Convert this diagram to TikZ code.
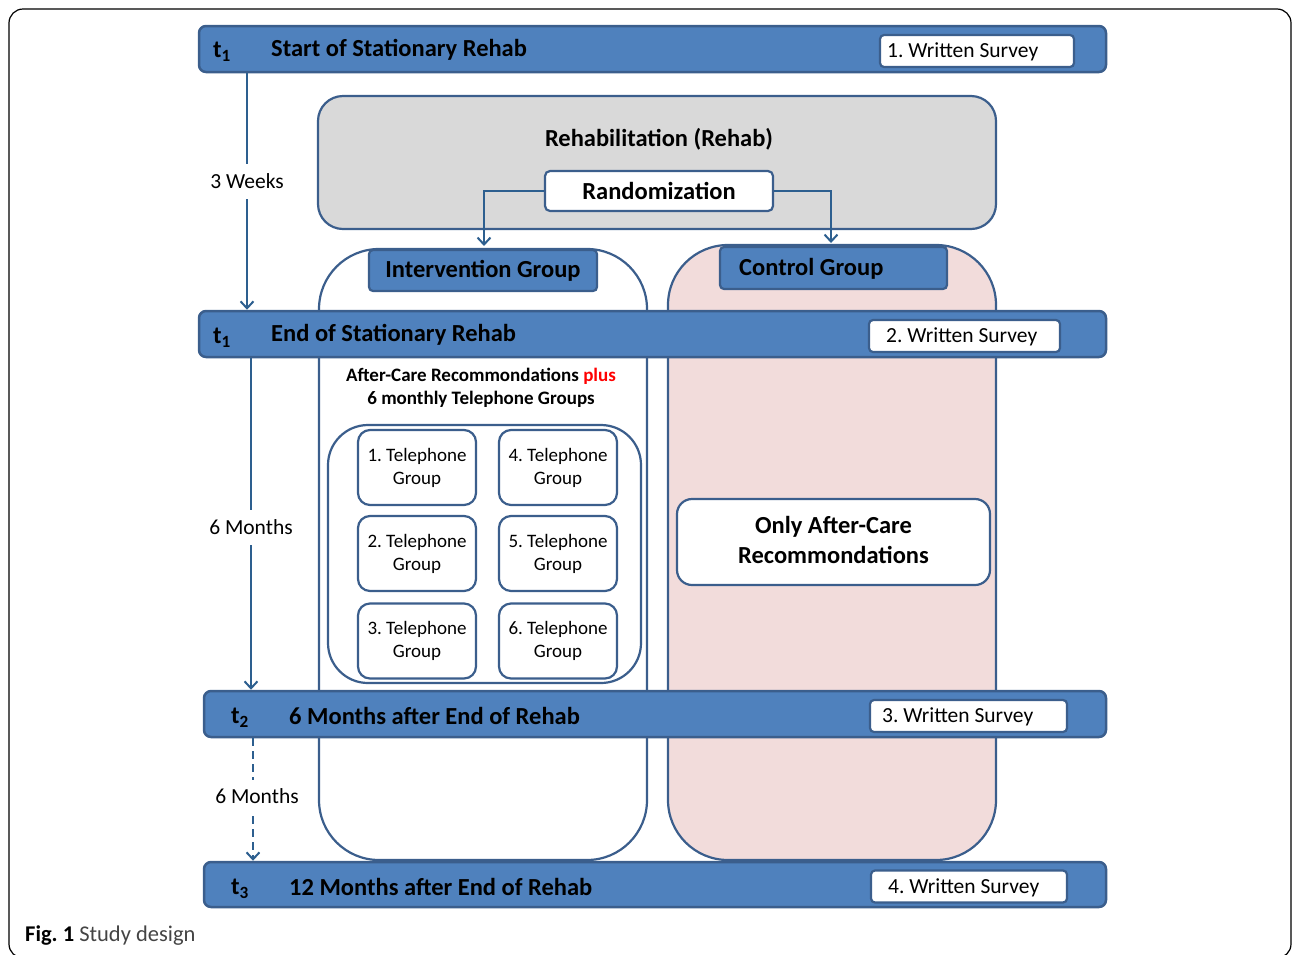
\documentclass[tikz,border=0pt]{standalone}
\usepackage{fontspec}
\setmainfont{Carlito}
\usetikzlibrary{arrows.meta}
\definecolor{barfill}{HTML}{4F81BD}
\definecolor{barline}{HTML}{3B5E8C}
\definecolor{arrowc}{HTML}{2D5F8F}
\definecolor{grayfill}{HTML}{D9D9D9}
\definecolor{pinkfill}{HTML}{F2DCDB}
\definecolor{capgray}{HTML}{444444}
\newcommand\fbig{\fontsize{24.5}{30}\selectfont\bfseries}
\newcommand\freg{\fontsize{21.5}{26}\selectfont}
\newcommand\fmid{\fontsize{19}{23}\selectfont\bfseries}
\newcommand\ftel{\fontsize{19}{23}\selectfont}
\frenchspacing
\begin{document}
\frenchspacing
\begin{tikzpicture}[x=1pt,y=-1pt,
  barbox/.style={draw=barline, fill=barfill, line width=2.5pt, rounded corners=7pt, inner sep=0pt},
  surveybox/.style={draw=barline, fill=white, line width=2.2pt, rounded corners=4pt, inner sep=0pt, minimum height=32pt},
  surveytxt/.style={font=\freg, inner sep=0pt, anchor=west},
  bartitle/.style={font=\fbig, inner sep=0pt, anchor=west},
  tlab/.style={font=\fbig, inner sep=0pt},
  headbox/.style={draw=barline, fill=barfill, line width=2.2pt, rounded corners=4pt, font=\fbig, minimum height=41pt, inner ysep=0pt},
  bigbox/.style={draw=barline, line width=2.2pt, rounded corners=60pt, inner sep=0pt},
  telbox/.style={draw=barline, fill=white, line width=2.2pt, rounded corners=12pt, minimum width=118pt, minimum height=75pt, inner sep=0pt, align=center, font=\ftel},
  arr/.style={draw=arrowc, line width=2pt, -{Straight Barb[length=7pt,width=13pt]}},
  midlab/.style={fill=white, font=\freg, inner xsep=2pt, inner ysep=10pt}
]
\useasboundingbox (0,0) rectangle (1292,954);
% outer frame
\draw[black, line width=1.2pt, rounded corners=14pt] (9,9) rectangle (1291,958);

% rehabilitation
\node[draw=barline, fill=grayfill, line width=2.2pt, rounded corners=25pt, minimum width=678pt, minimum height=133pt, inner sep=0pt] (rehab) at (657,162.5) {};
\node[font=\fbig, inner sep=0pt] (rehabt) at (659,139) {Rehabilitation (Rehab)};
\node[draw=barline, fill=white, line width=2.2pt, rounded corners=5pt, minimum width=228pt, minimum height=40pt, inner sep=0pt, font=\fbig] (rand) at (659,191) {\raisebox{-1.5pt}{Randomization}};
\coordinate (igin) at (484,246);
\coordinate (cgin) at (831,243);
\draw[arr] (rand.west) -| (igin);
\draw[arr] (rand.east) -| (cgin);

% group boxes
\node[bigbox, fill=white, minimum width=328pt, minimum height=611pt] (ig) at (483,554.5) {};
\node[bigbox, fill=pinkfill, minimum width=328pt, minimum height=615pt] (cg) at (832,552.5) {};
\node[headbox, minimum width=228pt] (igh) at (483,270.5) {\raisebox{-1.5pt}{Intervention Group}};
\node[headbox, minimum width=227pt, minimum height=42pt] (cgh) at (833.5,268) {};
\node[bartitle] (cght) at (739,269) {Control Group};

% intervention content
\node[font=\fmid, align=center, inner sep=0pt] (ac) at (481,388) {After-Care Recommondations \textcolor{red}{plus}\\6 monthly Telephone Groups};
\node[draw=barline, line width=2.2pt, rounded corners=40pt, minimum width=313pt, minimum height=258pt, inner sep=0pt] (inner) at (484.5,554) {};
\node[telbox] (tg1) at (417,467.5) {\raisebox{-2pt}{1. Telephone}\\\raisebox{-2pt}{Group}};
\node[telbox] (tg2) at (417,553.5) {\raisebox{-2pt}{2. Telephone}\\\raisebox{-2pt}{Group}};
\node[telbox] (tg3) at (417,641) {\raisebox{-2pt}{3. Telephone}\\\raisebox{-2pt}{Group}};
\node[telbox] (tg4) at (558,467.5) {\raisebox{-2pt}{4. Telephone}\\\raisebox{-2pt}{Group}};
\node[telbox] (tg5) at (558,553.5) {\raisebox{-2pt}{5. Telephone}\\\raisebox{-2pt}{Group}};
\node[telbox] (tg6) at (558,641) {\raisebox{-2pt}{6. Telephone}\\\raisebox{-2pt}{Group}};

% control content
\node[draw=barline, fill=white, line width=2.2pt, rounded corners=15pt, minimum width=313pt, minimum height=86pt, inner sep=0pt] (only) at (833.5,542) {};
\node[align=center, font=\fbig, inner sep=0pt] (onlyt) at (833.5,540) {Only After-Care\\Recommondations};

% bars
\node[barbox, minimum width=907pt, minimum height=46pt] (b1) at (652.5,49) {};
\node[tlab] (b1l) at (222,52) {t\textsubscript{1}};
\node[bartitle] (b1t) at (271,50) {Start of Stationary Rehab};
\node[surveybox, minimum width=194pt] (s1) at (977,51) {};
\node[surveytxt] (s1t) at (887,52) {1. Written Survey};

\node[barbox, minimum width=907pt, minimum height=46pt] (b2) at (652.5,334) {};
\node[tlab] (b2l) at (222,338) {t\textsubscript{1}};
\node[bartitle] (b2t) at (271,335) {End of Stationary Rehab};
\node[surveybox, minimum width=191pt] (s2) at (964.5,336) {};
\node[surveytxt] (s2t) at (886,337) {2. Written Survey};

\node[barbox, minimum width=902pt, minimum height=46pt] (b3) at (655,714) {};
\node[tlab] (b3l) at (240,718) {t\textsubscript{2}};
\node[bartitle] (b3t) at (289,716) {6 Months after End of Rehab};
\node[surveybox, minimum width=197pt] (s3) at (968.5,716) {};
\node[surveytxt] (s3t) at (882,717) {3. Written Survey};

\node[barbox, minimum width=902pt, minimum height=45pt] (b4) at (655,884.5) {};
\node[tlab] (b4l) at (240,889) {t\textsubscript{3}};
\node[bartitle] (b4t) at (289,887) {12 Months after End of Rehab};
\node[surveybox, minimum width=196pt] (s4) at (969,886.5) {};
\node[surveytxt] (s4t) at (888,888) {4. Written Survey};

% timeline
\draw[arr] (247,0 |- b1.south) -- (247,0 |- b2.north) node[midlab, pos=0.458] (w1) {3 Weeks};
\draw[arr] (251,0 |- b2.south) -- (251,0 |- b3.north) node[midlab, pos=0.51] (w2) {6 Months};
\draw[arr, dash pattern=on 8pt off 5pt] (253,0 |- b3.south) -- (253,0 |- b4.north) node[midlab, pos=0.476, xshift=4pt, inner ysep=9pt] (w3) {6 Months};

% caption
\node[anchor=base west, inner sep=0pt, font=\fontsize{22.5}{27}\selectfont, text=capgray] (cap) at (25,941) {\textcolor{black}{\textbf{Fig. 1}} Study design};
\end{tikzpicture}
\end{document}
